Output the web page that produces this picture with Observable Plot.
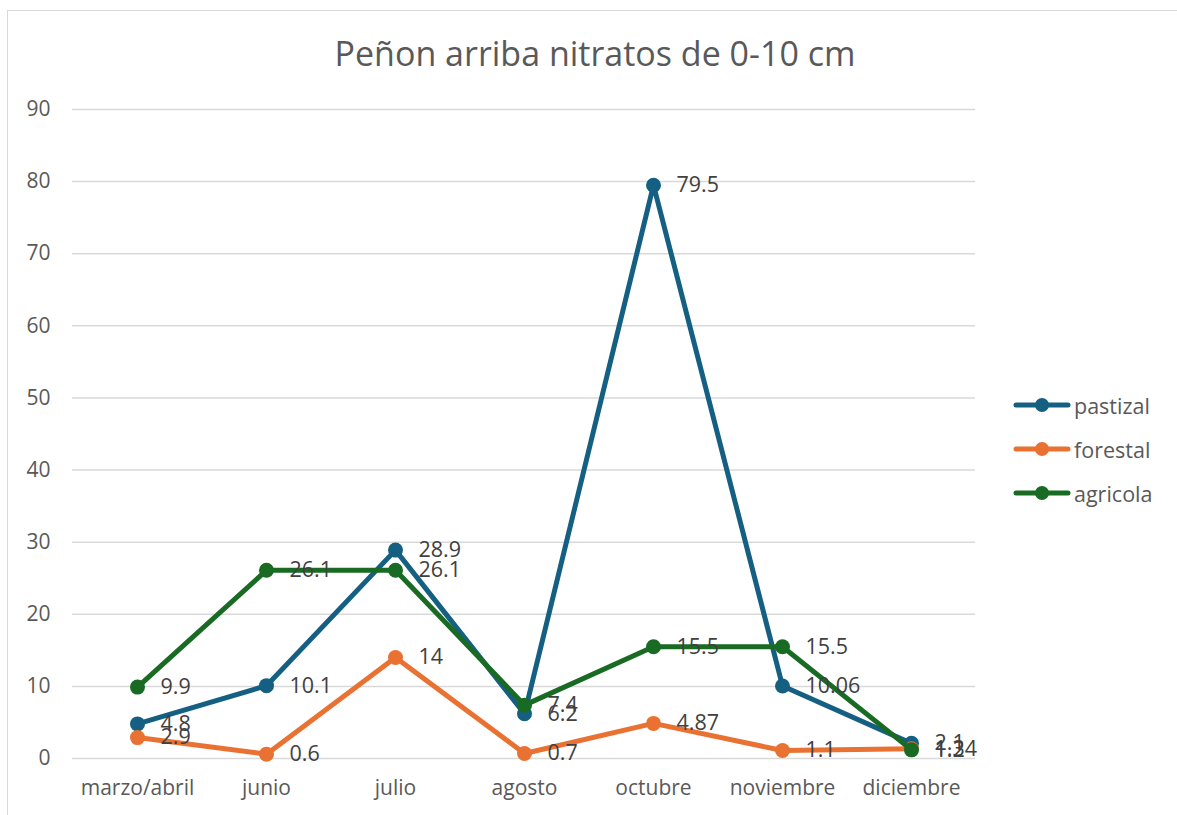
<!DOCTYPE html>
<html>
<head>
<meta charset="utf-8">
<script src="https://cdn.jsdelivr.net/npm/d3@7"></script>
<script src="https://cdn.jsdelivr.net/npm/@observablehq/plot@0.6"></script>
<style>
  html, body { margin: 0; padding: 0; background: #fff; }
  body { width: 1177px; height: 815px; position: relative; overflow: hidden; font-family: "Open Sans", "Noto Sans", sans-serif; }
  #frame { position: absolute; left: 7px; top: 10px; width: 1300px; height: 900px; border-left: 1.5px solid #d9d9d9; border-top: 1.5px solid #d9d9d9; }
  #title { position: absolute; left: 0; width: 1190px; top: 30px; text-align: center; font-size: 34px; color: #595959; line-height: 46px; }
  #chart { position: absolute; left: 0; top: 0; }
  #legend { position: absolute; left: 1013px; top: 383px; font-size: 21.5px; color: #595959; }
  .item { display: flex; align-items: center; height: 44px; }
  .item svg { margin-right: 3px; }
</style>
</head>
<body>
<div id="frame"></div>
<div id="chart"></div>
<div id="title">Peñon arriba nitratos de 0-10 cm</div>
<div id="legend"></div>
<script>
const categories = ["marzo/abril", "junio", "julio", "agosto", "octubre", "noviembre", "diciembre"];
const seriesNames = ["pastizal", "forestal", "agricola"];
const pastizal = [4.8, 10.1, 28.9, 6.2, 79.5, 10.06, 2.1];
const forestal = [2.9, 0.6, 14, 0.7, 4.87, 1.1, 1.34];
const agricola = [9.9, 26.1, 26.1, 7.4, 15.5, 15.5, 1.2];
const colors = ["#156082", "#E97132", "#196B24"];
const yTicks = [0, 10, 20, 30, 40, 50, 60, 70, 80, 90];

const values = [pastizal, forestal, agricola];
const data = [];
seriesNames.forEach((s, i) => categories.forEach((c, j) => data.push({series: s, cat: c, value: values[i][j]})));

const marks = [
  Plot.gridY(yTicks, {stroke: "#d9d9d9", strokeOpacity: 1, strokeWidth: 1.5})
];
seriesNames.forEach((s, i) => {
  const d = data.filter(r => r.series === s);
  marks.push(Plot.line(d, {x: "cat", y: "value", stroke: colors[i], strokeWidth: 5, strokeLinejoin: "round", strokeLinecap: "round"}));
  marks.push(Plot.dot(d, {x: "cat", y: "value", fill: colors[i], r: 7.5, stroke: "none"}));
});
seriesNames.forEach((s, i) => {
  const d = data.filter(r => r.series === s);
  marks.push(Plot.text(d, {x: "cat", y: "value", text: r => String(r.value), dx: 23, textAnchor: "start", fill: "#404040", fontSize: 21.5}));
});

const chart = Plot.plot({
  width: 1000,
  height: 815,
  marginLeft: 72,
  marginRight: 25,
  marginTop: 109,
  marginBottom: 57,
  style: {fontFamily: "'Open Sans', 'Noto Sans', sans-serif", background: "transparent", overflow: "visible"},
  x: {type: "point", domain: categories, padding: 0.5, label: null, tickSize: 0, tickPadding: 22},
  y: {domain: [0, 90], ticks: yTicks, label: null, tickSize: 0, tickPadding: 22},
  marks: [
    Plot.axisX({tickSize: 0, tickPadding: 22, fontSize: 21, color: "#595959", label: null}),
    Plot.axisY(yTicks, {tickSize: 0, tickPadding: 22, fontSize: 21, color: "#595959", label: null}),
    ...marks
  ]
});
document.getElementById("chart").appendChild(chart);

const legend = document.getElementById("legend");
seriesNames.forEach((s, i) => {
  const item = document.createElement("div");
  item.className = "item";
  item.innerHTML = `<svg width="58" height="16"><line x1="3" y1="8" x2="55" y2="8" stroke="${colors[i]}" stroke-width="5" stroke-linecap="round"/><circle cx="29" cy="8" r="7" fill="${colors[i]}"/></svg><span>${s}</span>`;
  legend.appendChild(item);
});
</script>
</body>
</html>
